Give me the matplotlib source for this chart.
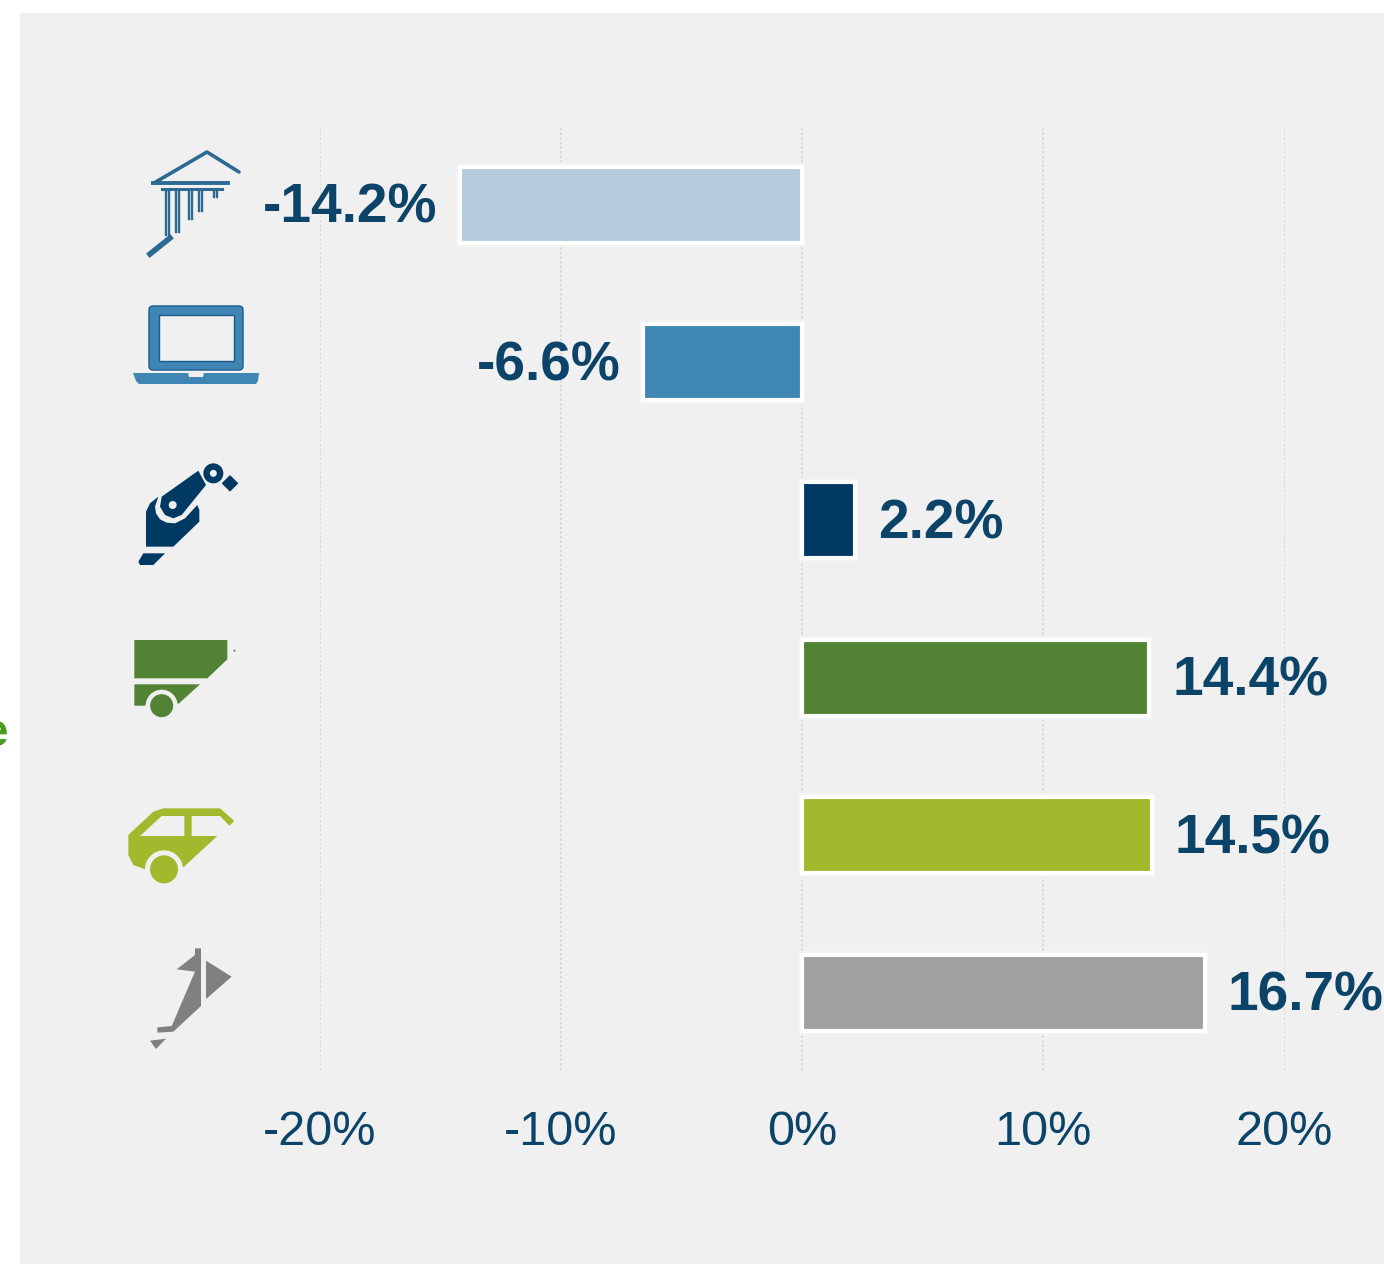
import matplotlib
matplotlib.use("Agg")
import matplotlib.pyplot as plt
from matplotlib.patches import Polygon, Circle, Rectangle, FancyBboxPatch
import matplotlib.patheffects as pe

plt.rcParams['font.family'] = ['Liberation Sans', 'DejaVu Sans']

sectors = ['Financials', 'Technology', 'Industrials', 'Materials', 'Consumer', 'Other']
values = [-14.2, -6.6, 2.2, 14.4, 14.5, 16.7]
labels = ['-14.2%', '-6.6%', '2.2%', '14.4%', '14.5%', '16.7%']
colors = ['#b3cbdc', '#3f86b5', '#003a63', '#528233', '#a3b92d', '#a0a0a0']
ticks = [-20, -10, 0, 10, 20]
tick_labels = ['-20%', '-10%', '0%', '10%', '20%']

W, H = 1384, 1264
BG = '#f0f0f0'
NAVY = '#0b4468'
fig = plt.figure(figsize=(W / 100, H / 100), dpi=100, facecolor='white')

# background panel and decorations in pixel space
under = fig.add_axes([0, 0, 1, 1], zorder=0)
under.set_xlim(0, W); under.set_ylim(H, 0); under.axis('off')
under.add_patch(Rectangle((20, 13), W - 20, H - 13, fc=BG, ec='none'))
under.text(8, 734, 'e', color='#4a9a1e', fontsize=33, fontweight='bold', ha='right', va='center')

# chart axes
ax = fig.add_axes([320 / W, 1 - 1070 / H, (1284.5 - 320) / W, (1070 - 126) / H], zorder=1)
ax.patch.set_alpha(0)
ax.set_xlim(-20, 20)
ax.set_ylim(5.49, -0.5)
for s in ax.spines.values():
    s.set_visible(False)
ax.set_xticks(ticks)
ax.set_xticklabels(tick_labels, fontsize=35, color=NAVY)
ax.set_yticks([])
ax.tick_params(axis='x', length=0, pad=28.5)
ax.grid(axis='x', color='#d2d2d2', linestyle=(0, (1.5, 1.5)), linewidth=1.1)
ax.set_axisbelow(True)

ypos = range(len(values))
bars = ax.barh(list(ypos), values, height=0.483, color=colors, edgecolor='white', linewidth=3, zorder=3)
for b in bars:
    b.set_path_effects([pe.Stroke(linewidth=6, foreground='#f3f3f3'), pe.Normal()])
for y, v, t in zip(ypos, values, labels):
    ax.annotate(t, (v, y), xytext=(16.3 if v > 0 else -16, -3), textcoords='offset points',
                ha='left' if v > 0 else 'right', va='center', fontsize=39.6, fontweight='bold',
                color=NAVY, zorder=4, annotation_clip=False)

# sector icons in pixel space
ic = fig.add_axes([0, 0, 1, 1], zorder=2)
ic.set_xlim(0, W); ic.set_ylim(H, 0); ic.axis('off')

def z1(pts):
    return [(120 + x / 3, 130 + y / 3) for x, y in pts]

def z2(pts):
    return [(x / 3, 620 + y / 3) for x, y in pts]

def poly(pts, color, **kw):
    ic.add_patch(Polygon(pts, closed=True, fc=color, ec='none', **kw))

def circ(xy, r, color):
    ic.add_patch(Circle(xy, r, fc=color, ec='none'))

# bank
c = '#2d6a91'
ic.plot(*zip(*[(154, 183), (207, 152), (239, 172)]), color=c, lw=2.6, solid_capstyle='round')
ic.plot([153, 228], [183, 183], color=c, lw=2.8)
ic.plot([162, 222], [189, 189], color=c, lw=2.2)
for x, y1 in [(167, 235), (177, 232), (190, 219), (200, 211), (215, 197)]:
    ic.plot([x - 1.5, x - 1.5], [191, y1], color=c, lw=1.7)
    ic.plot([x + 1.5, x + 1.5], [191, y1], color=c, lw=1.7)
ic.plot([150, 170], [254, 238], color=c, lw=4)

# laptop
ic.add_patch(FancyBboxPatch((151, 308), 90, 60, boxstyle='round,pad=2,rounding_size=4',
                            fc='#3f86b5', ec='#1a5b8a', lw=1))
ic.add_patch(Rectangle((159, 315), 75, 46, fc=BG, ec='#1a5b8a', lw=1))
poly([(133, 373), (259, 373), (258, 381), (256, 384), (139, 384), (136, 381)], '#3f86b5')
poly([(188, 373), (204, 373), (203, 377), (189, 377)], BG)

# robot arm
c = '#003a63'
poly(z1([(78, 1250), (78, 1145), (90, 1120), (115, 1100), (105, 1130), (108, 1150), (120, 1168), (140, 1178),
         (165, 1180), (195, 1165), (232, 1125), (238, 1140), (238, 1175), (160, 1250)]), c)
poly(z1([(125, 1100), (235, 1022), (258, 1065), (185, 1155), (160, 1165), (135, 1155), (120, 1130)]), c)
circ(z1([(158, 1125)])[0], 4, BG)
circ(z1([(280, 1030)])[0], 10, c)
circ(z1([(280, 1030)])[0], 3.5, BG)
poly(z1([(330, 1035), (355, 1060), (330, 1085), (305, 1060)]), c)
poly(z1([(70, 1270), (135, 1270), (100, 1305), (60, 1305), (55, 1295)]), c)

# truck
c = '#528233'
poly(z2([(403, 60), (682, 60), (682, 118), (622, 175), (403, 175)]), c)
poly(z2([(403, 193), (600, 193), (535, 252), (485, 210), (435, 257), (403, 257)]), c)
circ(z2([(485, 257)])[0], 16, BG)
circ(z2([(485, 257)])[0], 11.5, c)
circ(z2([(703, 92)])[0], 1, c)

# car
c = '#a3b92d'
poly(z2([(385, 645), (460, 575), (490, 565), (660, 565), (703, 603), (688, 617), (660, 588), (575, 588),
         (575, 648), (652, 648), (550, 742), (492, 700), (435, 748), (400, 735), (385, 705)]), c)
poly(z2([(420, 648), (485, 588), (553, 588), (553, 648)]), BG)
circ(z2([(492, 748)])[0], 19, BG)
circ(z2([(492, 748)])[0], 14, c)

# grey icon
c = '#808080'
poly(z2([(585, 985), (603, 985), (603, 1158), (520, 1235), (472, 1238), (472, 1222), (515, 1218),
         (585, 1055), (530, 1048), (585, 1005)]), c)
poly(z2([(618, 1022), (695, 1070), (618, 1137)]), c)
poly(z2([(450, 1262), (498, 1256), (468, 1287)]), c)

fig.savefig('out.png', dpi=100, facecolor='white')
